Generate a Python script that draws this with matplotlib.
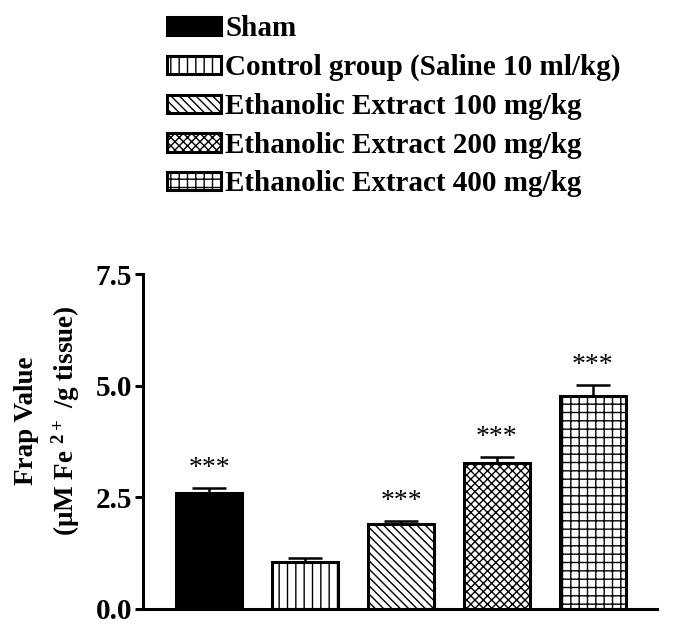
import matplotlib
matplotlib.use("Agg")
import matplotlib.pyplot as plt
from matplotlib.patches import Patch

plt.rcParams.update({"font.family": "Liberation Serif", "font.weight": "bold",
                     "mathtext.fontset": "custom", "mathtext.rm": "Liberation Serif:bold",
                     "mathtext.default": "rm", "hatch.linewidth": 1.0,
                     "axes.spines.top": False, "axes.spines.right": False})

groups = ["Sham", "Control group (Saline 10 ml/kg)", "Ethanolic Extract 100 mg/kg",
          "Ethanolic Extract 200 mg/kg", "Ethanolic Extract 400 mg/kg"]
means = [2.60, 1.05, 1.90, 3.28, 4.78]
errs = [0.11, 0.10, 0.08, 0.13, 0.23]
marks = ["***", "", "***", "***", "***"]
hatches = ["", "||", "\\\\\\\\", "xxxx", "++"]
faces = ["black", "white", "white", "white", "white"]

fig = plt.figure(figsize=(6.85, 6.29), dpi=100)
ax = fig.add_axes([0.209, 0.032, 0.750, 0.532])
x = list(range(len(groups)))
for i in x:
    ax.bar(i, means[i], 0.69, color=faces[i], edgecolor="black", linewidth=2.2, hatch=hatches[i])
    ax.errorbar(i, means[i], yerr=[[0], [errs[i]]], color="black", capsize=12, capthick=1.8, elinewidth=1.8)
    if marks[i]:
        ax.annotate(marks[i], (i, means[i] + errs[i]), xytext=(0, 5), textcoords="offset points",
                    ha="center", va="bottom", fontsize=20, fontweight="normal")
ax.set_xlim(-0.69, 4.67)
ax.set_ylim(0, 7.5)
ax.set_yticks([0, 2.5, 5.0, 7.5])
ax.set_yticklabels(["%.1f" % v for v in [0, 2.5, 5.0, 7.5]], fontsize=21, fontweight="bold")
ax.set_xticks([])
for s in ["left", "bottom"]:
    ax.spines[s].set_linewidth(2.2)
ax.tick_params(axis="y", length=6, width=2.2, pad=2)
ax.set_ylabel("Frap Value\n(\u03bcM Fe $^{2+}$ /g tissue)", fontsize=19.5, fontweight="bold", linespacing=1.4)
ax.yaxis.set_label_coords(-0.12, 0.563)

handles = [Patch(facecolor=faces[i], edgecolor="black", linewidth=2.2, hatch=hatches[i]) for i in x]
fig.legend(handles, groups, loc="upper left", bbox_to_anchor=(0.221, 1.0), frameon=False,
           prop={"family": "Liberation Serif", "weight": "bold", "size": 21},
           handlelength=1.85, handleheight=0.6, handletextpad=0.15, labelspacing=0.40, borderaxespad=0.13)

fig.savefig("out.png", dpi=100)
